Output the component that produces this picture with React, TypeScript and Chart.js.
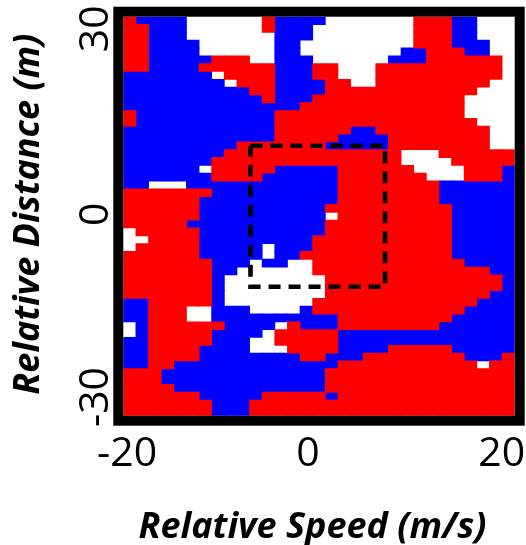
import React, { useEffect, useRef } from "react";
import { Chart, registerables, Scale } from "chart.js";

Chart.register(...registerables);

// Each row runs top (+30 m) to bottom (-30 m); a token is a class letter + exclusive end column.
const cellRuns: string[] = [
  "R1 B5 W11 R12 B16 W23 R26 B28 W31",
  "R2 B5 W11 R12 B15 W23 R26 B28 W31",
  "R2 B5 W12 B15 W23 R26 B28 W31",
  "R2 B6 W12 B14 W23 R26 B29 W31",
  "R2 B6 W12 B14 W22 B24 R27 B29 W31",
  "R2 B7 R10 W12 B15 W21 B24 R30 W31",
  "R2 B6 R12 B15 R17 W20 R30 W31",
  "B7 W8 R12 B15 R17 W20 R30 W31",
  "B8 W9 R12 B16 R18 W20 R29 W31",
  "B10 R12 B16 R28 W31",
  "B11 R12 B15 R27 W31",
  "B14 R27 W31",
  "R1 B12 R27 W31",
  "R1 B12 R28 W31",
  "B12 R18 B20 R29 W31",
  "B12 R17 B21 R29 W31",
  "B9 R16 B21 R29 W31",
  "B8 R22 W25 R31",
  "B7 R22 W26 R31",
  "B6 W7 R12 B17 R23 W27 R30 B31",
  "B7 R11 B17 R24 W27 R30 B31",
  "B2 W5 B17 R25 B31",
  "R7 B17 R25 B31",
  "R6 B17 R25 B31",
  "R6 B16 R26 B31",
  "R6 B16 W17 R26 B31",
  "R5 B16 R26 B31",
  "W1 R6 B16 R26 B31",
  "W2 R6 B15 R26 B31",
  "W1 R6 B11 W12 B15 R26 B31",
  "R6 B11 W12 B14 R26 B31",
  "R7 B10 W11 B13 W15 R27 B31",
  "R7 B9 W15 R29 B31",
  "R7 B8 W16 R30 B31",
  "R7 B8 W16 R30 B31",
  "R7 B8 W16 R29 B31",
  "B2 R7 B8 W15 R28 B31",
  "B2 R5 W7 B10 W14 B15 R27 B31",
  "B2 R5 W7 B17 R26 B31",
  "W1 B2 R8 B12 W13 R14 B17 R25 B31",
  "W1 B2 R7 B11 W12 R17 B31",
  "B2 R7 B10 W12 R17 B31",
  "B2 R6 B10 W13 R17 B21 R26 B31",
  "B2 R6 B14 R16 B19 R27 B30 R31",
  "B2 R4 B17 R28 W29 R31",
  "R3 B16 R31",
  "R3 B16 R31",
  "R4 B16 R31",
  "R6 B11 R16 B17 R31",
  "R7 B10 R31",
  "R7 B10 R31",
];

const xRange = [-20, 20];
const yRange = [-30, 30];
const xTicks = [-20, 0, 20];
const yTicks = [-30, 0, 30];
const xTitle = "Relative Speed (m/s)";
const yTitle = "Relative Distance (m)";
const boxX = [-7, 6.75];
const boxY = [-10.6, 10.6];
const classColors: Record<string, string> = { R: "#ff0000", B: "#0000ff", W: "#ffffff" };

function buildCells(code: string) {
  const nCols = 31;
  const nRows = cellRuns.length;
  const dx = (xRange[1] - xRange[0]) / nCols;
  const dy = (yRange[1] - yRange[0]) / nRows;
  const out: { x: number; y: [number, number] }[] = [];
  cellRuns.forEach((row, r) => {
    let start = 0;
    row.split(" ").forEach((tok) => {
      const end = Number(tok.slice(1));
      if (tok[0] === code) {
        for (let c = start; c < end; c++) {
          out.push({
            x: xRange[0] + (c + 0.5) * dx,
            y: [yRange[1] - (r + 1) * dy, yRange[1] - r * dy],
          });
        }
      }
      start = end;
    });
  });
  return out;
}

const frame = {
  id: "frame",
  afterDatasetsDraw(chart: any) {
    const { left, top, right, bottom } = chart.chartArea;
    const ctx = chart.ctx;
    ctx.save();
    ctx.strokeStyle = "#000";
    ctx.lineWidth = 10;
    ctx.strokeRect(left - 5, top - 5, right - left + 10, bottom - top + 10);
    ctx.restore();
  },
};

function placeAxis(scale: any, tickShift: number[], titleShift: [number, number]) {
  scale.getPixelForTick = function (i: number) {
    return this.getPixelForValue(this.ticks[i].value) + tickShift[i];
  };
  scale.drawTitle = function () {
    this.ctx.save();
    this.ctx.translate(titleShift[0], titleShift[1]);
    (Scale.prototype as any).drawTitle.call(this);
    this.ctx.restore();
  };
}

function clearPadding(s: any) {
  s.paddingLeft = 0;
  s.paddingRight = 0;
  s.paddingTop = 0;
  s.paddingBottom = 0;
}

export default function App() {
  const ref = useRef<HTMLCanvasElement>(null);
  useEffect(() => {
    document.body.style.margin = "0";
    const chart = new Chart(ref.current as HTMLCanvasElement, {
      type: "bar",
      data: {
        datasets: [
          ...Object.keys(classColors).map((code) => ({
            type: "bar" as const,
            data: buildCells(code) as any,
            backgroundColor: classColors[code],
            borderWidth: 0,
            barPercentage: 1,
            categoryPercentage: 1,
            grouped: false,
            inflateAmount: 0.4,
            order: 2,
          })),
          {
            type: "line" as const,
            data: [
              { x: boxX[0], y: boxY[1] },
              { x: boxX[1], y: boxY[1] },
              { x: boxX[1], y: boxY[0] },
              { x: boxX[0], y: boxY[0] },
              { x: boxX[0], y: boxY[1] },
            ] as any,
            borderColor: "#000",
            borderWidth: 4.6,
            borderDash: [12, 8],
            pointRadius: 0,
            fill: false,
            tension: 0,
            order: 1,
          },
        ],
      },
      options: {
        responsive: false,
        animation: false,
        layout: { padding: { left: 0, top: 16.7, right: 11.3, bottom: 0 } },
        plugins: { legend: { display: false }, tooltip: { enabled: false } },
        scales: {
          x: {
            type: "linear",
            min: xRange[0],
            max: xRange[1],
            offset: false,
            grid: { display: false, drawTicks: false },
            border: { display: false },
            afterBuildTicks: (s: any) => {
              s.ticks = xTicks.map((value) => ({ value }));
              placeAxis(s, [3.8, -11, -13], [-6.5, 4]);
            },
            afterFit: (s: any) => {
              s.height = 129.3;
              clearPadding(s);
            },
            ticks: {
              autoSkip: false,
              maxRotation: 0,
              padding: 14,
              color: "#000",
              font: { family: "Open Sans", size: 41 },
              callback: (v: any) => String(v),
            },
            title: {
              display: true,
              text: xTitle,
              color: "#000",
              font: { family: "Open Sans", size: 36, weight: "bold", style: "italic" },
              padding: { top: 0, bottom: 0 },
            },
          },
          y: {
            type: "linear",
            min: yRange[0],
            max: yRange[1],
            grid: { display: false, drawTicks: false },
            border: { display: false },
            afterBuildTicks: (s: any) => {
              s.ticks = yTicks.map((value) => ({ value }));
              placeAxis(s, [-18.7, -2, 12], [7, -2]);
            },
            afterFit: (s: any) => {
              s.width = 123.3;
              clearPadding(s);
            },
            ticks: {
              autoSkip: false,
              minRotation: 90,
              maxRotation: 90,
              crossAlign: "center",
              padding: -3,
              color: "#000",
              font: { family: "Open Sans", size: 41 },
              callback: (v: any) => String(v),
            },
            title: {
              display: true,
              text: yTitle,
              color: "#000",
              font: { family: "Open Sans", size: 36, weight: "bold", style: "italic" },
              padding: { top: 0, bottom: 0 },
            },
          },
        },
      },
      plugins: [frame],
    } as any);
    return () => chart.destroy();
  }, []);
  return (
    <canvas
      ref={ref}
      width={526}
      height={545}
      style={{ display: "block", width: 526, height: 545 }}
    />
  );
}
